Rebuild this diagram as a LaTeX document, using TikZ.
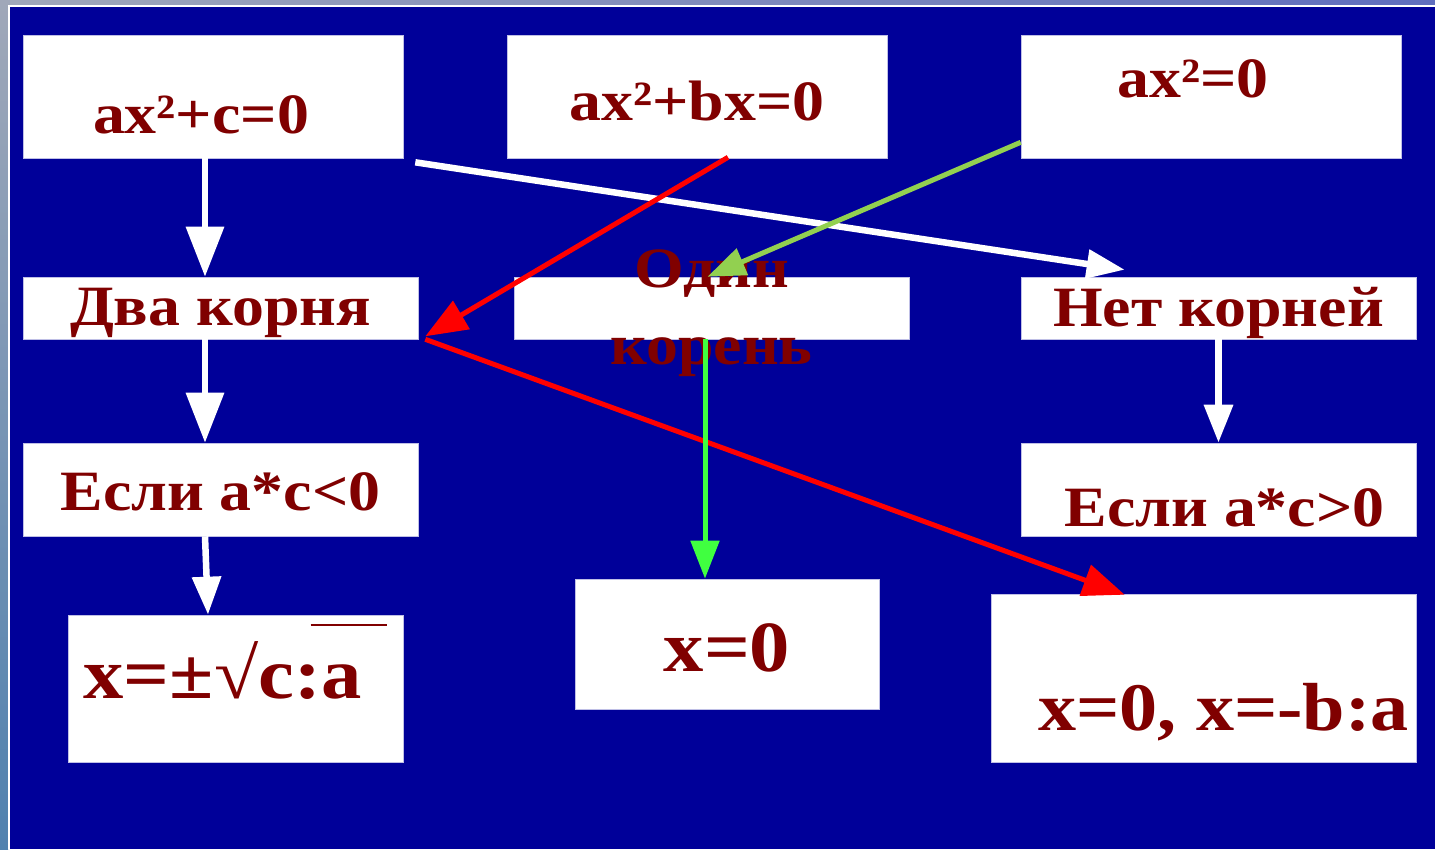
\documentclass[tikz,border=0pt]{standalone}
\usepackage{fontspec}
\setmainfont{Liberation Serif}[FakeStretch=1.12]
\usetikzlibrary{arrows.meta, calc}
\definecolor{slideblue}{RGB}{0,0,153}
\definecolor{txtred}{RGB}{128,0,0}
\definecolor{leafgreen}{RGB}{146,208,80}
\definecolor{brightgreen}{RGB}{64,255,64}
\definecolor{edgetop}{RGB}{160,168,185}
\definecolor{edgelow}{RGB}{80,130,175}
\definecolor{edgeright}{RGB}{95,110,190}
\tikzset{
  box/.style={fill=white, draw=white!75!slideblue, line width=0.6pt, inner sep=0pt},
  eq/.style={text=txtred, inner sep=0pt, align=center, font=\fontsize{57}{77}\selectfont\bfseries},
  big/.style={eq, font=\fontsize{72}{80}\selectfont\bfseries},
  tip/.style={-{Triangle[length=38pt, width=28pt]}},
  bigtip/.style={-{Triangle[length=50pt, width=37pt]}},
  wflow/.style={draw=white, line width=6.5pt},
  rflow/.style={draw=red, line width=5pt, -{Triangle[length=42pt, width=32pt]}},
  gflow/.style={line width=5pt, tip},
}
\begin{document}
\begin{tikzpicture}[x=1pt, y=-1pt]
  \useasboundingbox (0,0) rectangle (1435,849);
  % slide background
  \shade[top color=edgetop, bottom color=edgelow] (0,0) rectangle (8,849);
  \shade[left color=edgetop, right color=edgeright] (8,0) rectangle (1435,5);
  \fill[white] (8,5) rectangle (1435,849);
  \fill[slideblue] (10,7) rectangle (1435,849);

  % equations
  \node[box, minimum width=380, minimum height=123, label={[eq, shift={(-12,18)}]center:{ax²+c=0}}] (quadc) at (213,96.5) {};
  \node[box, minimum width=380, minimum height=123, label={[eq, shift={(0,4)}]center:{ax²+bx=0}}] (quadb) at (697,96.5) {};
  \node[box, minimum width=380, minimum height=123, label={[eq, shift={(-18,-18)}]center:{ax²=0}}] (quada) at (1211,96.5) {};

  % number of roots
  \node[box, minimum width=395, minimum height=62, label={[eq, shift={(0,5)}]center:{Два корня}}] (tworoots) at (220.5,308) {};
  \node[box, minimum width=395, minimum height=62, label={[eq, shift={(0,5)}]center:{Один\\корень}}] (oneroot) at (711.5,308) {};
  \node[box, minimum width=395, minimum height=62, label={[eq, shift={(0,5)}]center:{Нет корней}}] (noroots) at (1218.5,308) {};

  % conditions
  \node[box, minimum width=395, minimum height=93, label={[eq, shift={(0,2)}]center:{Если a*c<0}}] (condneg) at (220.5,489.5) {};
  \node[box, minimum width=395, minimum height=93, label={[eq, shift={(6,18)}]center:{Если a*c>0}}] (condpos) at (1218.5,489.5) {};

  % answers
  \node[box, minimum width=335, minimum height=147, label={[big, shift={(-13,-18)}]center:{x=±{\mdseries√}c:a}}] (ansc) at (235.5,688.5) {};
  \node[box, minimum width=304, minimum height=130, label={[big, shift={(0,4)}]center:{x=0}}] (ansa) at (727,644) {};
  \node[box, minimum width=425, minimum height=168, label={[big, font=\fontsize{68}{76}\selectfont\bfseries, shift={(20,34)}]center:{x=0, x=-b:a}}] (ansb) at (1203.5,678) {};
  \draw[txtred, line width=2pt] ($(ansc.north west)+(243,10)$) -- ($(ansc.north west)+(319,10)$);

  % white arrows
  \draw[wflow, bigtip] ([xshift=-8pt]quadc.south) -- ([xshift=-15.5pt]tworoots.north);
  \draw[wflow, bigtip] ([xshift=-15.5pt]tworoots.south) -- ([xshift=-15.5pt]condneg.north);
  \draw[wflow, tip] ([xshift=-15.5pt]condneg.south) -- ([xshift=-27.5pt]ansc.north);
  \draw[wflow, tip] (noroots.south) -- (condpos.north);
  \draw[wflow, tip] ($(quadc.south east)+(12,4)$) -- ($(noroots.north west)+(104,-7)$);

  % red arrows
  \draw[rflow] ($(quadb.south)+(31,-1)$) -- ($(tworoots.south east)+(7,-3)$);
  \draw[rflow] ($(tworoots.south east)+(7,0)$) -- ($(ansb.north west)+(134,1)$);

  % green arrows
  \draw[gflow, leafgreen] ($(quada.south west)+(0,-16)$) -- ([xshift=-4pt]oneroot.north);
  \draw[gflow, brightgreen] ([xshift=-6.5pt]oneroot.south) -- ([xshift=-22pt]ansa.north);
\end{tikzpicture}
\end{document}
